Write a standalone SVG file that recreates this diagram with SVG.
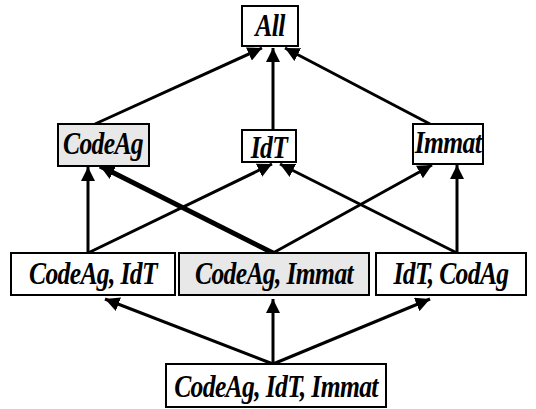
<svg xmlns="http://www.w3.org/2000/svg" width="536" height="409" viewBox="0 0 536 409">
<style>
.box{fill:#fff;stroke:#000;stroke-width:2}
.g{fill:#e8e8e8}
text{font-family:"Liberation Serif","Times New Roman",serif;font-weight:bold;font-style:italic;font-size:32px;letter-spacing:-0.8px;text-anchor:middle;fill:#000}
.c line{stroke:#000;stroke-width:3;marker-end:url(#a)}
</style>
<defs>
<marker id="a" viewBox="0 0 10 10" refX="10" refY="5" markerWidth="4.8" markerHeight="4.8" markerUnits="strokeWidth" orient="auto">
<path d="M0,0 L10,5 L0,10 z" fill="#000"/>
</marker>
<marker id="b" viewBox="0 0 10 10" refX="10" refY="5" markerWidth="2.9" markerHeight="2.9" markerUnits="strokeWidth" orient="auto">
<path d="M0,0 L10,5 L0,10 z" fill="#000"/>
</marker>
</defs>
<g class="c" id="connectors">
<line x1="95" y1="124" x2="262" y2="48"/>
<line x1="273" y1="129" x2="273" y2="48"/>
<line x1="430" y1="124" x2="285" y2="48"/>
<line x1="88" y1="253" x2="88" y2="167"/>
<line x1="88" y1="253" x2="272" y2="164"/>
<line x1="273" y1="253" x2="100" y2="166" style="stroke-width:5;marker-end:url(#b)"/>
<line x1="273" y1="253" x2="432" y2="165"/>
<line x1="457" y1="253" x2="280" y2="164"/>
<line x1="457" y1="253" x2="457" y2="165"/>
<line x1="273" y1="364" x2="105" y2="299"/>
<line x1="273" y1="364" x2="273" y2="299"/>
<line x1="273" y1="364" x2="430" y2="299"/>
</g>
<g id="n-all"><rect class="box" x="242" y="6" width="56" height="40"/><text transform="translate(270,36) scale(0.8,1)">All</text></g>
<g id="n-codeag"><rect class="box g" x="58" y="124" width="91" height="42"/><text transform="translate(103,154) scale(0.8,1)">CodeAg</text></g>
<g id="n-idt"><rect class="box" x="242" y="130" width="54" height="32"/><text transform="translate(269,158) scale(0.8,1)">IdT</text></g>
<g id="n-immat"><rect class="box" x="413" y="124" width="70" height="40"/><text transform="translate(448,153) scale(0.8,1)">Immat</text></g>
<g id="n-codeag-idt"><rect class="box" x="11" y="253" width="164" height="42"/><text transform="translate(93,284) scale(0.8,1)">CodeAg, IdT</text></g>
<g id="n-codeag-immat"><rect class="box g" x="179" y="253" width="190" height="42"/><text transform="translate(274,284) scale(0.8,1)">CodeAg, Immat</text></g>
<g id="n-idt-codag"><rect class="box" x="376" y="253" width="150" height="42"/><text transform="translate(451,284) scale(0.8,1)">IdT, CodAg</text></g>
<g id="n-all3"><rect class="box" x="166" y="364" width="220" height="43"/><text transform="translate(276,397) scale(0.8,1)">CodeAg, IdT, Immat</text></g>
</svg>
